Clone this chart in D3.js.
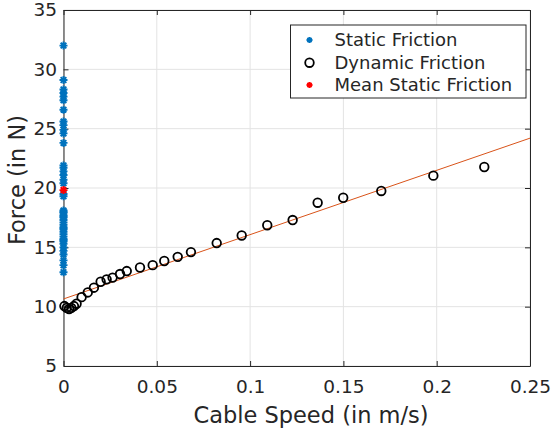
<!DOCTYPE html>
<html>
<head>
<meta charset="utf-8">
<script src="https://cdn.jsdelivr.net/npm/d3@7"></script>
<style>
  html, body { margin: 0; padding: 0; background: #fff; }
  svg { display: block; font-family: "DejaVu Sans", Verdana, sans-serif; }
</style>
</head>
<body>
<svg id="chart" width="556" height="433"></svg>
<script>
// Static friction force readings (N), all taken at zero cable speed
const staticForce = [
  32.0, 29.1, 28.3, 28.0, 27.7, 27.4, 26.6, 25.6, 25.3, 24.9, 24.6, 23.8,
  21.9, 21.7, 21.4, 21.1, 20.7, 20.4, 19.5, 19.3, 18.1, 18.0, 17.9, 17.7,
  17.6, 17.5, 17.3, 17.1, 16.9, 16.7, 16.6, 16.5, 16.3, 16.1, 15.9, 15.7,
  15.6, 15.5, 15.3, 15.0, 14.7, 14.4, 13.9, 13.5, 12.9
];

// Dynamic friction: cable speed (m/s) and force (N)
const dynamicSpeed = [
  0.0005, 0.0017, 0.0030, 0.0042, 0.0056, 0.0070, 0.0097, 0.0130, 0.0163,
  0.0199, 0.0231, 0.0263, 0.0303, 0.0339, 0.0410, 0.0478, 0.0540, 0.0612,
  0.0683, 0.0821, 0.0955, 0.1092, 0.1228, 0.1362, 0.1499, 0.1703, 0.1982,
  0.2255
];
const dynamicForce = [
  10.05, 9.90, 9.80, 9.90, 10.05, 10.25, 10.80, 11.20, 11.60,
  12.10, 12.30, 12.45, 12.75, 13.00, 13.30, 13.50, 13.85, 14.20,
  14.60, 15.36, 16.00, 16.86, 17.30, 18.76, 19.18, 19.75, 21.04,
  21.77
];

// Linear fit of the dynamic friction: [intercept, slope]
const fitCoeffs = [10.65, 54.2];
const fitSpeedRange = [0, 0.25];

// Axis ticks
const xTicks = [0, 0.05, 0.1, 0.15, 0.2, 0.25];
const xTickLabels = ["0", "0.05", "0.1", "0.15", "0.2", "0.25"];
const yTicks = [5, 10, 15, 20, 25, 30, 35];
const yTickLabels = ["5", "10", "15", "20", "25", "30", "35"];

const legendLabels = ["Static Friction", "Dynamic Friction", "Mean Static Friction"];

const BLUE = "#0072BD", RED = "#FF0000", ORANGE = "#D95319", INK = "#262626";

const svg = d3.select("#chart");
const plot = { left: 63.5, right: 530, top: 10, bottom: 366 };

const x = d3.scaleLinear().domain([0, 0.25]).range([plot.left, plot.right]);
const y = d3.scaleLinear().domain([5, 35]).range([plot.bottom, plot.top]);

// Grid
const grid = svg.append("g").attr("stroke", "#e3e3e3").attr("stroke-width", 1);
grid.selectAll("line.gx").data(xTicks).join("line")
  .attr("x1", d => x(d)).attr("x2", d => x(d))
  .attr("y1", plot.top).attr("y2", plot.bottom);
grid.selectAll("line.gy").data(yTicks).join("line")
  .attr("y1", d => y(d)).attr("y2", d => y(d))
  .attr("x1", plot.left).attr("x2", plot.right);

// Axes with inward ticks on all four sides
const tickLen = 5;
const fmtX = (d, i) => xTickLabels[i];
const fmtY = (d, i) => yTickLabels[i];

function styleAxis(g) {
  g.select(".domain").attr("stroke", INK).attr("stroke-width", 1);
  g.selectAll(".tick line").attr("stroke", INK).attr("stroke-width", 1);
  g.selectAll(".tick text").attr("fill", INK).attr("font-size", 18.5)
    .attr("font-family", "DejaVu Sans, Verdana, sans-serif");
}

svg.append("g").attr("transform", `translate(0,${plot.bottom})`)
  .call(d3.axisBottom(x).tickValues(xTicks).tickFormat(fmtX)
    .tickSizeInner(-tickLen).tickSizeOuter(0).tickPadding(14))
  .call(styleAxis);
svg.append("g").attr("transform", `translate(0,${plot.top})`)
  .call(d3.axisTop(x).tickValues(xTicks).tickFormat("")
    .tickSizeInner(-tickLen).tickSizeOuter(0))
  .call(styleAxis);
svg.append("g").attr("transform", `translate(${plot.left},0)`)
  .call(d3.axisLeft(y).tickValues(yTicks).tickFormat(fmtY)
    .tickSizeInner(-tickLen).tickSizeOuter(0).tickPadding(6.5))
  .call(styleAxis);
svg.append("g").attr("transform", `translate(${plot.right},0)`)
  .call(d3.axisRight(y).tickValues(yTicks).tickFormat("")
    .tickSizeInner(-tickLen).tickSizeOuter(0))
  .call(styleAxis);

// Axis titles
svg.append("text")
  .attr("x", 311).attr("y", 423)
  .attr("text-anchor", "middle").attr("font-size", 22.5).attr("fill", INK)
  .text("Cable Speed (in m/s)");
svg.append("text")
  .attr("transform", "translate(25,180) rotate(-90)")
  .attr("text-anchor", "middle").attr("font-size", 22.5).attr("fill", INK)
  .text("Force (in N)");

// Fit line
const fitLine = d3.line().x(d => x(d)).y(d => y(fitCoeffs[0] + fitCoeffs[1] * d));
svg.append("path").datum(fitSpeedRange)
  .attr("d", fitLine).attr("fill", "none")
  .attr("stroke", ORANGE).attr("stroke-width", 1);

// Asterisk marker path centred on the origin
function asterisk(r) {
  const d = r * Math.SQRT1_2;
  return `M${-r},0L${r},0M0,${-r}L0,${r}M${-d},${-d}L${d},${d}M${-d},${d}L${d},${-d}`;
}

// Dynamic friction points
const dyn = dynamicSpeed.map((s, i) => ({ s, f: dynamicForce[i] }));
svg.append("g").selectAll("circle").data(dyn).join("circle")
  .attr("cx", d => x(d.s)).attr("cy", d => y(d.f)).attr("r", 4.3)
  .attr("fill", "none").attr("stroke", "#000").attr("stroke-width", 1.8);

// Static friction points
svg.append("g").selectAll("path").data(staticForce).join("path")
  .attr("transform", d => `translate(${x(0)},${y(d)})`)
  .attr("d", asterisk(4)).attr("fill", "none")
  .attr("stroke", BLUE).attr("stroke-width", 1.9);

// Mean static friction
const meanStatic = d3.mean(staticForce);
svg.append("path")
  .attr("transform", `translate(${x(0)},${y(meanStatic)})`)
  .attr("d", asterisk(4)).attr("fill", "none")
  .attr("stroke", RED).attr("stroke-width", 1.9);

// Legend
const legend = svg.append("g");
legend.append("rect")
  .attr("x", 290.5).attr("y", 25).attr("width", 235.5).attr("height", 73)
  .attr("fill", "#fff").attr("stroke", INK).attr("stroke-width", 1);
const rowY = [40, 62.7, 85];
legendLabels.forEach((label, i) => {
  const cy = rowY[i];
  if (i === 1) {
    legend.append("circle").attr("cx", 309.5).attr("cy", cy).attr("r", 4.3)
      .attr("fill", "none").attr("stroke", "#000").attr("stroke-width", 1.8);
  } else {
    legend.append("path").attr("transform", `translate(309.5,${cy})`)
      .attr("d", asterisk(3)).attr("fill", "none")
      .attr("stroke", i === 0 ? BLUE : RED).attr("stroke-width", 1.8);
  }
  legend.append("text").attr("x", 334.5).attr("y", cy).attr("dy", "0.35em")
    .attr("font-size", 18).attr("fill", INK).text(label);
});
</script>
</body>
</html>
